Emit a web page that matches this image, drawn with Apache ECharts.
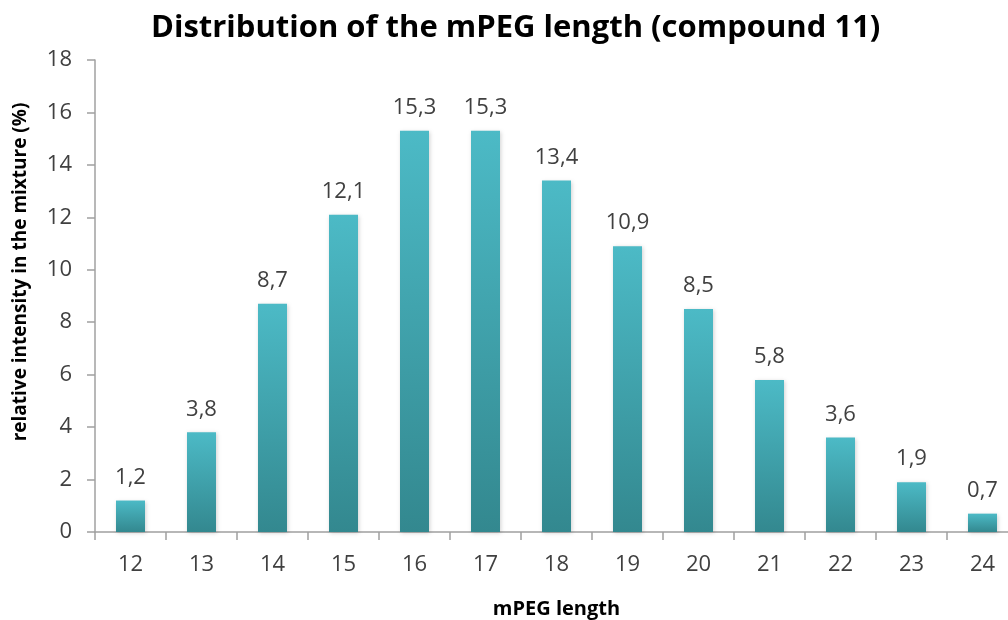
<!DOCTYPE html>
<html>
<head>
<meta charset="utf-8">
<script src="https://cdn.jsdelivr.net/npm/echarts@6/dist/echarts.min.js"></script>
<style>
  html, body { margin: 0; padding: 0; background: #ffffff; }
  #chart { width: 1008px; height: 620px; }
</style>
</head>
<body>
<div id="chart"></div>
<script>
// mPEG chain lengths and their relative intensity (%) in the mixture
const lengths = ['12', '13', '14', '15', '16', '17', '18', '19', '20', '21', '22', '23', '24'];
const intensity = [1.2, 3.8, 8.7, 12.1, 15.3, 15.3, 13.4, 10.9, 8.5, 5.8, 3.6, 1.9, 0.7];
const yTicks = [0, 2, 4, 6, 8, 10, 12, 14, 16, 18];

const FONT = '"Open Sans", "Liberation Sans", sans-serif';
const TEXT = '#404040';
const AXIS = '#a0a0a0';

const chart = echarts.init(document.getElementById('chart'), null, { renderer: 'canvas' });

chart.setOption({
  backgroundColor: '#ffffff',
  animation: false,
  title: {
    text: 'Distribution of the mPEG length (compound 11)',
    left: 146,
    top: 8,
    textStyle: { fontFamily: FONT, fontWeight: 'bold', fontSize: 31, color: '#000000' }
  },
  grid: { left: 95, right: -10, top: 60, bottom: 88, containLabel: false, outerBoundsMode: 'none' },
  xAxis: {
    type: 'category',
    data: lengths,
    name: 'mPEG length',
    nameLocation: 'middle',
    nameGap: 67,
    nameTextStyle: { fontFamily: FONT, fontWeight: 'bold', fontSize: 20, color: '#000000' },
    axisLine: { lineStyle: { color: AXIS, width: 1.5 } },
    axisTick: { show: true, alignWithLabel: false, length: 8, lineStyle: { color: AXIS, width: 1.5 } },
    axisLabel: { fontFamily: FONT, fontSize: 22, color: TEXT, margin: 22 }
  },
  yAxis: {
    type: 'value',
    min: yTicks[0],
    max: yTicks[yTicks.length - 1],
    interval: yTicks[1] - yTicks[0],
    name: 'relative intensity in the mixture (%)',
    nameLocation: 'middle',
    nameGap: 65,
    nameTextStyle: { fontFamily: FONT, fontWeight: 'bold', fontSize: 19, color: '#000000', padding: [0, 0, 0, 48] },
    axisLine: { show: true, lineStyle: { color: AXIS, width: 1.5 } },
    axisTick: { show: true, length: 8, lineStyle: { color: AXIS, width: 1.5 } },
    axisLabel: { fontFamily: FONT, fontSize: 22, color: TEXT, margin: 23 },
    splitLine: { show: false }
  },
  series: [{
    type: 'bar',
    data: intensity,
    barWidth: 29,
    itemStyle: {
      color: new echarts.graphic.LinearGradient(0, 0, 0, 1, [
        { offset: 0, color: '#4cbac6' },
        { offset: 1, color: '#33888f' }
      ]),
      shadowColor: 'rgba(0,0,0,0.18)',
      shadowBlur: 4,
      shadowOffsetX: 1,
      shadowOffsetY: 1
    },
    label: {
      show: true,
      position: 'top',
      distance: 12,
      fontFamily: FONT,
      fontSize: 22,
      color: TEXT,
      formatter: p => String(p.value).replace('.', ',')
    }
  }]
});
</script>
</body>
</html>
